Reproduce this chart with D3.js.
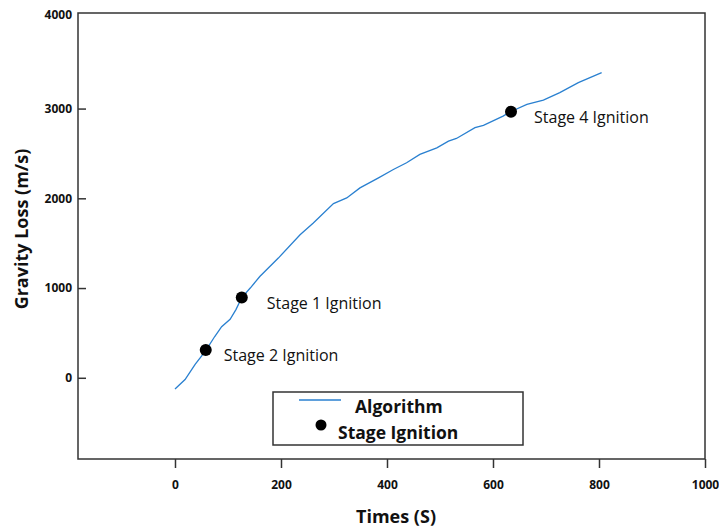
<!DOCTYPE html>
<html>
<head>
<meta charset="utf-8">
<script src="https://cdn.jsdelivr.net/npm/d3@7"></script>
<style>
  body { margin: 0; background: #fff; }
  svg { font-family: "Open Sans", sans-serif; }
</style>
</head>
<body>
<div id="chart"></div>
<script>
// gravity loss curve
const times = [0, 19, 38, 58, 75, 88, 104, 115, 126, 142, 160, 195, 236, 261, 299, 324, 349, 384, 412, 437, 462, 494, 516, 531, 566, 582, 619, 633, 664, 695, 726, 761, 805];
const losses = [-126, -20, 150, 302, 460, 570, 652, 760, 894, 1000, 1128, 1334, 1594, 1725, 1941, 2004, 2116, 2228, 2321, 2396, 2489, 2563, 2637, 2667, 2787, 2812, 2916, 2965, 3047, 3095, 3178, 3289, 3401];

const stageNames = ["Stage 2 Ignition", "Stage 1 Ignition", "Stage 4 Ignition"];
const stageTimes = [58, 126, 634];
const stageLosses = [310, 894, 2965];

const xTicks = [0, 200, 400, 600, 800, 1000];
const yTicks = [0, 1000, 2000, 3000, 4000];

const W = 719, H = 531;
const margin = { left: 78, right: 14, top: 13, bottom: 72 };

const svg = d3.select("#chart").append("svg")
  .attr("width", W)
  .attr("height", H);

const x = d3.scaleLinear().domain([-183, 1000]).range([margin.left, W - margin.right]);
const y = d3.scaleLinear().domain([-905, 4065]).range([H - margin.bottom, margin.top]);

// frame
svg.append("rect")
  .attr("x", margin.left)
  .attr("y", margin.top)
  .attr("width", W - margin.right - margin.left)
  .attr("height", H - margin.bottom - margin.top)
  .attr("fill", "none")
  .attr("stroke", "#333")
  .attr("stroke-width", 1.5);

// x axis, ticks outward
const xAxis = svg.append("g")
  .attr("transform", "translate(0," + (H - margin.bottom) + ")")
  .call(d3.axisBottom(x).tickValues(xTicks).tickSize(9).tickPadding(12).tickFormat(d3.format("d")));
xAxis.select(".domain").remove();
xAxis.selectAll("line").attr("stroke", "#333").attr("stroke-width", 1.5);
xAxis.selectAll("text")
  .attr("font-size", 12)
  .attr("font-weight", "bold")
  .attr("fill", "#111")
  .attr("font-family", "'Open Sans', sans-serif");

// y axis, ticks inward
const yAxis = svg.append("g")
  .attr("transform", "translate(" + margin.left + ",0)")
  .call(d3.axisLeft(y).tickValues(yTicks).tickSize(-8).tickPadding(6).tickFormat(d3.format("d")));
yAxis.select(".domain").remove();
yAxis.selectAll("line").attr("stroke", "#333").attr("stroke-width", 1.5)
  .filter(d => d === 4000).remove();
yAxis.selectAll("text")
  .attr("font-size", 12)
  .attr("font-weight", "bold")
  .attr("fill", "#111")
  .attr("font-family", "'Open Sans', sans-serif");
// top label sits on the frame line
yAxis.selectAll(".tick").filter(d => d === 4000).select("text").attr("dy", "-0.05em");

// axis titles
svg.append("text")
  .attr("x", 396)
  .attr("y", 523)
  .attr("text-anchor", "middle")
  .attr("font-size", 18)
  .attr("font-weight", "bold")
  .attr("fill", "#111")
  .text("Times (S)");

svg.append("text")
  .attr("transform", "translate(28,229) rotate(-90)")
  .attr("text-anchor", "middle")
  .attr("font-size", 18)
  .attr("font-weight", "bold")
  .attr("fill", "#111")
  .text("Gravity Loss (m/s)");

// curve
const pts = times.map((t, i) => [t, losses[i]]);
const line = d3.line().x(d => x(d[0])).y(d => y(d[1]));
svg.append("path")
  .datum(pts)
  .attr("d", line)
  .attr("fill", "none")
  .attr("stroke", "#2a80d0")
  .attr("stroke-width", 1.3);

// stage ignition markers
const stages = stageNames.map((n, i) => ({ name: n, t: stageTimes[i], v: stageLosses[i] }));
const labelDx = [18, 25, 23];
const g = svg.append("g").selectAll("g").data(stages).enter().append("g");
g.append("circle")
  .attr("cx", d => x(d.t))
  .attr("cy", d => y(d.v))
  .attr("r", 6)
  .attr("fill", "#000");
g.append("text")
  .attr("x", (d, i) => x(d.t) + labelDx[i])
  .attr("y", d => y(d.v) + 11)
  .attr("font-size", 16)
  .attr("fill", "#111")
  .text(d => d.name);

// legend
const legend = svg.append("g");
legend.append("rect")
  .attr("x", 273).attr("y", 392)
  .attr("width", 250).attr("height", 53)
  .attr("fill", "#fff")
  .attr("stroke", "#333")
  .attr("stroke-width", 1.5);
legend.append("line")
  .attr("x1", 299).attr("x2", 341)
  .attr("y1", 400).attr("y2", 400)
  .attr("stroke", "#2a80d0")
  .attr("stroke-width", 1.3);
legend.append("text")
  .attr("x", 355).attr("y", 413)
  .attr("font-size", 17.5)
  .attr("font-weight", "bold")
  .attr("fill", "#111")
  .text("Algorithm");
legend.append("circle")
  .attr("cx", 321).attr("cy", 425)
  .attr("r", 5.5)
  .attr("fill", "#000");
legend.append("text")
  .attr("x", 338).attr("y", 439)
  .attr("font-size", 17.5)
  .attr("font-weight", "bold")
  .attr("fill", "#111")
  .text("Stage Ignition");
</script>
</body>
</html>
